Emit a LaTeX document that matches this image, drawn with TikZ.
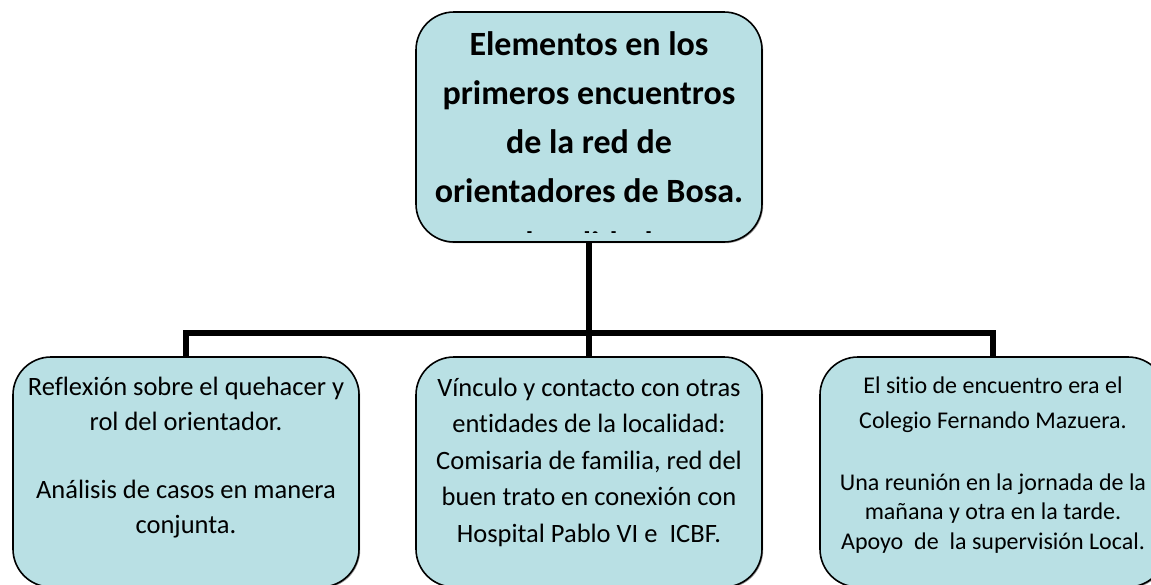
\documentclass[tikz,border=0pt]{standalone}
\usepackage{fontspec}
\setmainfont{Carlito}[Ligatures=NoCommon]
\usetikzlibrary{shadows}
\definecolor{celeste}{RGB}{185,224,228}
\newcommand{\textocaja}[2]{\parbox[t][230pt][t]{346pt}{\centering\rule{0pt}{#1}#2}}

\begin{document}
\begin{tikzpicture}[x=1pt,y=-1pt,
  caja/.style={draw=black,line width=1.6pt,fill=celeste,rounded corners=38pt,inner sep=0pt,
    drop shadow={shadow xshift=1.2pt,shadow yshift=-1.2pt,fill=black,opacity=0.4}},
  conector/.style={line width=5.5pt,black}]
  \useasboundingbox (0,0) rectangle (1151,584);
  % Upper box
  \node[caja,font=\bfseries\fontsize{34pt}{49pt}\selectfont] (titulo) at (589,127)
    {\textocaja{43pt}{Elementos en los\\ primeros encuentros\\ de la red de\\ orientadores de Bosa.}};
  \begin{scope}
    \clip ([yshift=10pt]titulo.south west) rectangle (titulo.north east);
    \node[anchor=base,font=\bfseries\fontsize{34pt}{49pt}\selectfont] (resto) at (589,255) {localidad};
  \end{scope}
  % Lower boxes
  \node[caja,font=\fontsize{26.5pt}{35pt}\selectfont] (caja1) at (186,472)
    {\textocaja{38pt}{Reflexión sobre el quehacer y\\ rol del orientador.\\[33pt] Análisis de casos en manera\\ conjunta.}};
  \node[caja,font=\fontsize{26.5pt}{36.5pt}\selectfont] (caja2) at (589,472)
    {\textocaja{39pt}{Vínculo y contacto con otras\\ entidades de la localidad:\\ Comisaria de familia, red del\\ buen trato en conexión con\\ Hospital Pablo VI e~ ICBF.}};
  \node[caja,font=\fontsize{24pt}{35pt}\selectfont] (caja3) at (993,472)
    {\textocaja{36pt}{El sitio de encuentro era el\\ Colegio Fernando Mazuera.\\[27pt] Una reunión en la jornada de la\\[-5.5pt]
      mañana y otra en la tarde.\\[-5.5pt] Apoyo~ de~ la supervisión Local.}};
  % Connectors
  \coordinate (rama) at (589,333);
  \draw[conector] (titulo.south) -- (rama);
  \draw[conector] (rama) -| (caja1.north);
  \draw[conector] (rama) -- (caja2.north);
  \draw[conector] (rama) -| (caja3.north);
\end{tikzpicture}
\end{document}
